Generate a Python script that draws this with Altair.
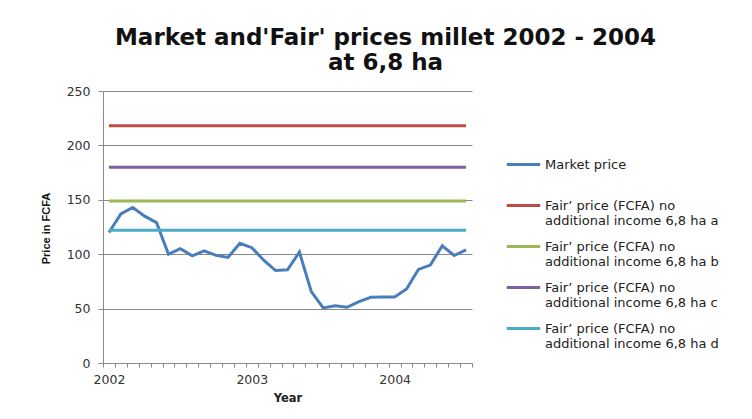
import altair as alt
import pandas as pd

# ---- data ----
months = list(range(31))  # Jan 2002 .. Jul 2004
market = [120, 137, 143, 135, 129, 100, 105, 98.5, 103, 99, 97, 110, 106, 94.5,
          85, 85.6, 102, 65.6, 50.6, 52.5, 51.2, 56.4, 60.4, 60.7, 60.7, 68,
          86, 90, 107.7, 98.8, 104]
series_names = [
    "Market price",
    "Fair\u2019 price (FCFA) no additional income 6,8 ha a",
    "Fair\u2019 price (FCFA) no additional income 6,8 ha b",
    "Fair\u2019 price (FCFA) no additional income 6,8 ha c",
    "Fair\u2019 price (FCFA) no additional income 6,8 ha d",
]
fair_values = [218, 149, 180, 122]
colors = ["#4A7EBB", "#BE4B48", "#98B954", "#7D60A0", "#4BACC6"]
y_ticks = [0, 50, 100, 150, 200, 250]

market_df = pd.DataFrame({"month": months, "price": market, "series": series_names[0]})
fair_rows = []
for name, fv in zip(series_names[1:], fair_values):
    for m in months:
        fair_rows.append({"month": m, "price": fv, "series": name})
fair_df = pd.DataFrame(fair_rows)

FONT = "DejaVu Sans"
GRID = "#8a8a8a"

label_expr = (
    "indexof(datum.label, ' additional') > 0 ? "
    "[slice(datum.label, 0, indexof(datum.label, ' additional')), "
    "slice(datum.label, indexof(datum.label, ' additional') + 1)] : [datum.label, ' ']"
)

x_enc = alt.X(
    "month:O",
    scale=alt.Scale(type="band", paddingInner=0, paddingOuter=0),
    axis=alt.Axis(
        title="Year",
        tickBand="extent",
        labelExpr="datum.value % 12 == 0 ? toString(2002 + datum.value / 12) : ''",
        labelAngle=0,
        labelOverlap=False,
        labelFont=FONT,
        labelFontSize=12.5,
        labelColor="#333333",
        labelPadding=6,
        tickSize=4,
        tickColor=GRID,
        domainColor=GRID,
        titleFont=FONT,
        titleFontSize=11.5,
        titleFontWeight="bold",
        titleColor="#222222",
        titlePadding=7,
        grid=False,
    ),
)
y_enc = alt.Y(
    "price:Q",
    scale=alt.Scale(domain=[0, 250], nice=False),
    axis=alt.Axis(
        title="Price in FCFA",
        values=y_ticks,
        labelFont=FONT,
        labelFontSize=12.5,
        labelColor="#333333",
        labelPadding=8,
        tickSize=5,
        tickColor=GRID,
        domainColor=GRID,
        gridColor=GRID,
        titleFont="Liberation Sans",
        titleFontSize=11,
        titleFontWeight="bold",
        titleColor="#111111",
        titleX=-57,
        titleY=137,
        titleAlign="center",
        titleBaseline="middle",
    ),
)
color_enc = alt.Color(
    "series:N",
    scale=alt.Scale(domain=series_names, range=colors),
    legend=alt.Legend(
        orient="none",
        legendX=402,
        legendY=55,
        title=None,
        symbolType="stroke",
        symbolSize=1120,
        symbolStrokeWidth=3,
        labelFont=FONT,
        labelFontSize=13,
        labelColor="#222222",
        labelLimit=400,
        labelOffset=3,
        rowPadding=0,
        labelExpr=label_expr,
    ),
)

market_line = alt.Chart(market_df).mark_line(strokeWidth=3).encode(
    x=x_enc, y=y_enc, color=color_enc
)
fair_lines = alt.Chart(fair_df).mark_line(strokeWidth=3).encode(
    x=x_enc, y=y_enc, color=color_enc, detail="series:N"
)

chart = (
    alt.layer(market_line, fair_lines)
    .properties(
        width=369,
        height=272,
        autosize=alt.AutoSizeParams(type="none"),
        padding={"left": 95, "top": 83, "right": 272, "bottom": 48},
        title=alt.TitleParams(
            text=["Market and'Fair' prices millet 2002 - 2004", "at 6,8 ha"],
            font=FONT,
            fontSize=23,
            fontWeight="bold",
            color="#111111",
            anchor="middle",
            dx=98,
            offset=10,
            lineHeight=25,
        ),
    )
    .configure_view(stroke=None)
)

chart.save("out.html", embed_options={"renderer": "svg", "actions": False})
